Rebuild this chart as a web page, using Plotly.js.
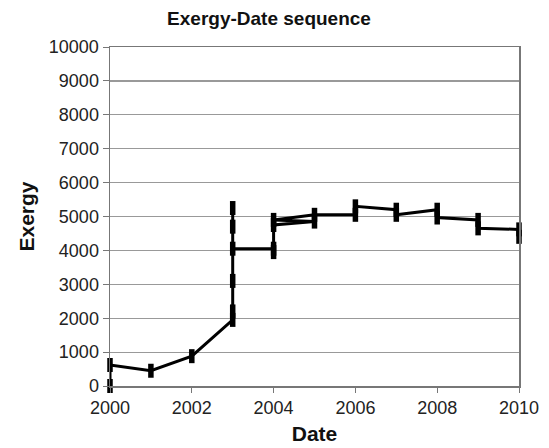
<!DOCTYPE html>
<html>
<head>
<meta charset="utf-8">
<script src="https://cdn.plot.ly/plotly-3.0.1.min.js"></script>
<style>html,body{margin:0;padding:0;background:#fff;}#chart{width:549px;height:448px;}</style>
</head>
<body>
<div id="chart"></div>
<script>
// Data
const dates   = [2000, 2000, 2001, 2002, 2003, 2003, 2003, 2003, 2003, 2003, 2004, 2004, 2004, 2005, 2004, 2005, 2006, 2006, 2007, 2007, 2008, 2008, 2009, 2009, 2010, 2010];
const exergy  = [0, 620, 450, 880, 1950, 2200, 3100, 5250, 4700, 4050, 4050, 3950, 4750, 4850, 4900, 5050, 5050, 5300, 5200, 5050, 5200, 4970, 4900, 4650, 4620, 4400];
const xTicks  = [2000, 2002, 2004, 2006, 2008, 2010];
const yTicks  = [0, 1000, 2000, 3000, 4000, 5000, 6000, 7000, 8000, 9000, 10000];

const FONT = 'Liberation Sans, Arial, sans-serif';

Plotly.newPlot('chart', [{
  x: dates,
  y: exergy,
  type: 'scatter',
  mode: 'lines+markers',
  line: {color: '#000', width: 3},
  marker: {symbol: 'line-ns', size: 10, color: '#000', line: {color: '#000', width: 5.5}},
  cliponaxis: false,
  showlegend: false
}], {
  width: 549,
  height: 448,
  margin: {l: 110, r: 30, t: 47, b: 62},
  paper_bgcolor: '#fff',
  plot_bgcolor: '#fff',
  font: {family: FONT, color: '#222'},
  title: {text: '<b>Exergy-Date sequence</b>', font: {family: FONT, size: 19, color: '#111'}, xref: 'container', x: 0.49, xanchor: 'center', y: 0.96, yanchor: 'middle'},
  xaxis: {
    range: [2000, 2010],
    tickvals: xTicks,
    ticktext: xTicks.map(String),
    ticks: 'outside', ticklen: 5, tickcolor: '#777', tickwidth: 1,
    showgrid: false, zeroline: false,
    showline: true, linecolor: '#777', linewidth: 1.5, mirror: true,
    tickfont: {family: FONT, size: 18, color: '#222'},
    title: {text: '<b>Date</b>', font: {family: FONT, size: 21, color: '#111'}, standoff: 9}
  },
  yaxis: {
    range: [0, 10000],
    tickvals: yTicks,
    ticktext: yTicks.map(String),
    ticks: 'outside', ticklen: 6, tickcolor: '#777', tickwidth: 1,
    showgrid: true, gridcolor: '#999', gridwidth: 1.2, zeroline: false,
    showline: true, linecolor: '#777', linewidth: 1.5, mirror: true,
    tickfont: {family: FONT, size: 18, color: '#222'},
    title: {text: '<b>Exergy</b>', font: {family: FONT, size: 21, color: '#111'}, standoff: 8}
  }
}, {displayModeBar: false, staticPlot: true});
</script>
</body>
</html>
